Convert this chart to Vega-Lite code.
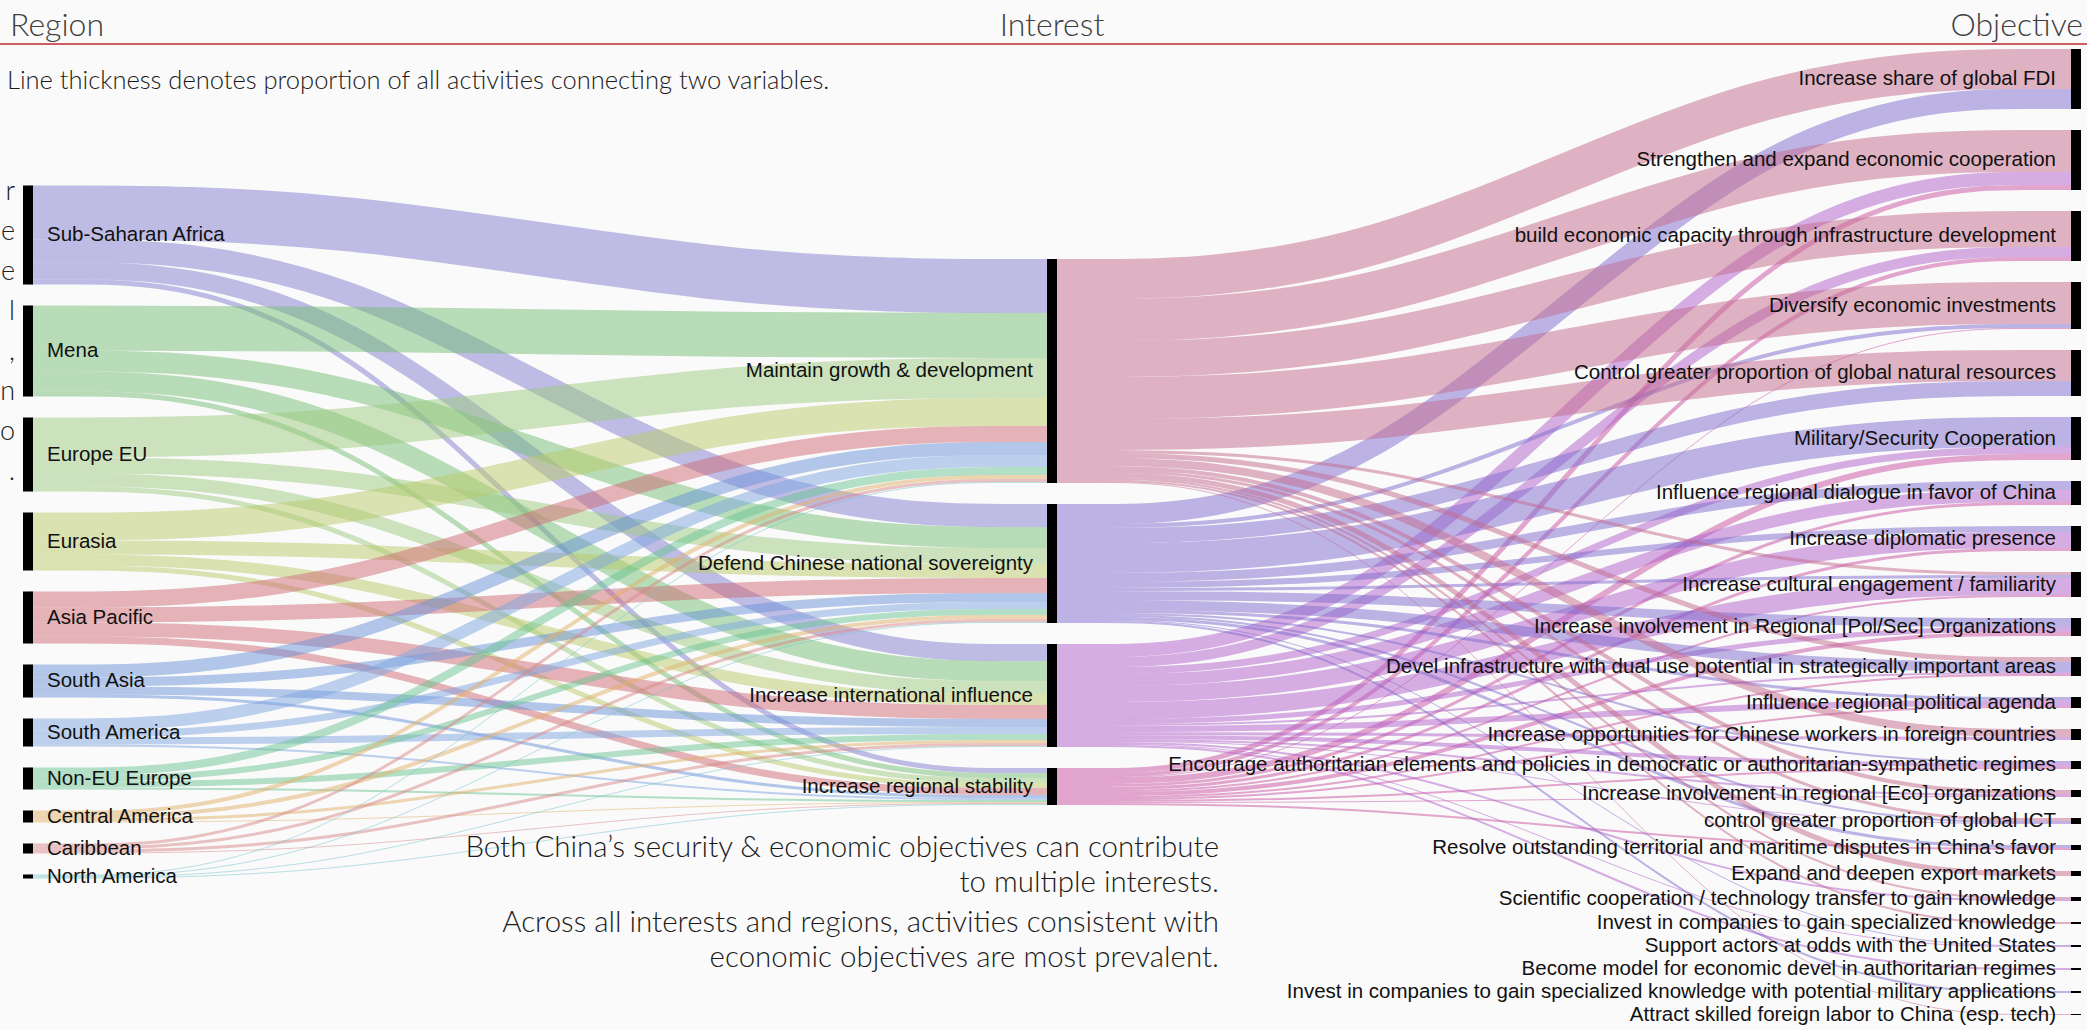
{
  "$schema": "https://vega.github.io/schema/vega-lite/v6.json",
  "width": 2087,
  "height": 1030,
  "autosize": {"type": "none"},
  "padding": 0,
  "background": "#fafafa",
  "config": {"view": {"stroke": null}},
  "datasets": {
    "links": [
      {"stage": 0, "s": "Sub-Saharan Africa", "so": 0, "t": "Maintain growth & development", "to": 0, "v": 54},
      {"stage": 0, "s": "Sub-Saharan Africa", "so": 0, "t": "Defend Chinese national sovereignty", "to": 1, "v": 23},
      {"stage": 0, "s": "Sub-Saharan Africa", "so": 0, "t": "Increase international influence", "to": 2, "v": 17},
      {"stage": 0, "s": "Sub-Saharan Africa", "so": 0, "t": "Increase regional stability", "to": 3, "v": 5},
      {"stage": 0, "s": "Mena", "so": 1, "t": "Maintain growth & development", "to": 0, "v": 45},
      {"stage": 0, "s": "Mena", "so": 1, "t": "Defend Chinese national sovereignty", "to": 1, "v": 21},
      {"stage": 0, "s": "Mena", "so": 1, "t": "Increase international influence", "to": 2, "v": 20},
      {"stage": 0, "s": "Mena", "so": 1, "t": "Increase regional stability", "to": 3, "v": 5},
      {"stage": 0, "s": "Europe EU", "so": 2, "t": "Maintain growth & development", "to": 0, "v": 40},
      {"stage": 0, "s": "Europe EU", "so": 2, "t": "Defend Chinese national sovereignty", "to": 1, "v": 16},
      {"stage": 0, "s": "Europe EU", "so": 2, "t": "Increase international influence", "to": 2, "v": 13},
      {"stage": 0, "s": "Europe EU", "so": 2, "t": "Increase regional stability", "to": 3, "v": 5},
      {"stage": 0, "s": "Eurasia", "so": 3, "t": "Maintain growth & development", "to": 0, "v": 28},
      {"stage": 0, "s": "Eurasia", "so": 3, "t": "Defend Chinese national sovereignty", "to": 1, "v": 14},
      {"stage": 0, "s": "Eurasia", "so": 3, "t": "Increase international influence", "to": 2, "v": 11},
      {"stage": 0, "s": "Eurasia", "so": 3, "t": "Increase regional stability", "to": 3, "v": 5},
      {"stage": 0, "s": "Asia Pacific", "so": 4, "t": "Maintain growth & development", "to": 0, "v": 16},
      {"stage": 0, "s": "Asia Pacific", "so": 4, "t": "Defend Chinese national sovereignty", "to": 1, "v": 15},
      {"stage": 0, "s": "Asia Pacific", "so": 4, "t": "Increase international influence", "to": 2, "v": 14},
      {"stage": 0, "s": "Asia Pacific", "so": 4, "t": "Increase regional stability", "to": 3, "v": 7},
      {"stage": 0, "s": "South Asia", "so": 5, "t": "Maintain growth & development", "to": 0, "v": 13},
      {"stage": 0, "s": "South Asia", "so": 5, "t": "Defend Chinese national sovereignty", "to": 1, "v": 9},
      {"stage": 0, "s": "South Asia", "so": 5, "t": "Increase international influence", "to": 2, "v": 8},
      {"stage": 0, "s": "South Asia", "so": 5, "t": "Increase regional stability", "to": 3, "v": 3},
      {"stage": 0, "s": "South America", "so": 6, "t": "Maintain growth & development", "to": 0, "v": 12},
      {"stage": 0, "s": "South America", "so": 6, "t": "Defend Chinese national sovereignty", "to": 1, "v": 7},
      {"stage": 0, "s": "South America", "so": 6, "t": "Increase international influence", "to": 2, "v": 7},
      {"stage": 0, "s": "South America", "so": 6, "t": "Increase regional stability", "to": 3, "v": 2},
      {"stage": 0, "s": "Non-EU Europe", "so": 7, "t": "Maintain growth & development", "to": 0, "v": 8},
      {"stage": 0, "s": "Non-EU Europe", "so": 7, "t": "Defend Chinese national sovereignty", "to": 1, "v": 6},
      {"stage": 0, "s": "Non-EU Europe", "so": 7, "t": "Increase international influence", "to": 2, "v": 6},
      {"stage": 0, "s": "Non-EU Europe", "so": 7, "t": "Increase regional stability", "to": 3, "v": 2},
      {"stage": 0, "s": "Central America", "so": 8, "t": "Maintain growth & development", "to": 0, "v": 4},
      {"stage": 0, "s": "Central America", "so": 8, "t": "Defend Chinese national sovereignty", "to": 1, "v": 4},
      {"stage": 0, "s": "Central America", "so": 8, "t": "Increase international influence", "to": 2, "v": 3},
      {"stage": 0, "s": "Central America", "so": 8, "t": "Increase regional stability", "to": 3, "v": 1},
      {"stage": 0, "s": "Caribbean", "so": 9, "t": "Maintain growth & development", "to": 0, "v": 3},
      {"stage": 0, "s": "Caribbean", "so": 9, "t": "Defend Chinese national sovereignty", "to": 1, "v": 3},
      {"stage": 0, "s": "Caribbean", "so": 9, "t": "Increase international influence", "to": 2, "v": 3},
      {"stage": 0, "s": "Caribbean", "so": 9, "t": "Increase regional stability", "to": 3, "v": 1},
      {"stage": 0, "s": "North America", "so": 10, "t": "Maintain growth & development", "to": 0, "v": 1},
      {"stage": 0, "s": "North America", "so": 10, "t": "Defend Chinese national sovereignty", "to": 1, "v": 1},
      {"stage": 0, "s": "North America", "so": 10, "t": "Increase international influence", "to": 2, "v": 1},
      {"stage": 0, "s": "North America", "so": 10, "t": "Increase regional stability", "to": 3, "v": 1},

      {"stage": 1, "s": "Maintain growth & development", "so": 0, "t": "Increase share of global FDI", "to": 0, "v": 40},
      {"stage": 1, "s": "Defend Chinese national sovereignty", "so": 1, "t": "Increase share of global FDI", "to": 0, "v": 20},
      {"stage": 1, "s": "Maintain growth & development", "so": 0, "t": "Strengthen and expand economic cooperation", "to": 1, "v": 42},
      {"stage": 1, "s": "Increase international influence", "so": 2, "t": "Strengthen and expand economic cooperation", "to": 1, "v": 13},
      {"stage": 1, "s": "Increase regional stability", "so": 3, "t": "Strengthen and expand economic cooperation", "to": 1, "v": 5},
      {"stage": 1, "s": "Maintain growth & development", "so": 0, "t": "build economic capacity through infrastructure development", "to": 2, "v": 36},
      {"stage": 1, "s": "Increase international influence", "so": 2, "t": "build economic capacity through infrastructure development", "to": 2, "v": 10},
      {"stage": 1, "s": "Increase regional stability", "so": 3, "t": "build economic capacity through infrastructure development", "to": 2, "v": 4},
      {"stage": 1, "s": "Maintain growth & development", "so": 0, "t": "Diversify economic investments", "to": 3, "v": 42},
      {"stage": 1, "s": "Defend Chinese national sovereignty", "so": 1, "t": "Diversify economic investments", "to": 3, "v": 4},
      {"stage": 1, "s": "Increase regional stability", "so": 3, "t": "Diversify economic investments", "to": 3, "v": 1},
      {"stage": 1, "s": "Maintain growth & development", "so": 0, "t": "Control greater proportion of global natural resources", "to": 4, "v": 31},
      {"stage": 1, "s": "Defend Chinese national sovereignty", "so": 1, "t": "Control greater proportion of global natural resources", "to": 4, "v": 15},
      {"stage": 1, "s": "Defend Chinese national sovereignty", "so": 1, "t": "Military/Security Cooperation", "to": 5, "v": 30},
      {"stage": 1, "s": "Increase international influence", "so": 2, "t": "Military/Security Cooperation", "to": 5, "v": 7},
      {"stage": 1, "s": "Increase regional stability", "so": 3, "t": "Military/Security Cooperation", "to": 5, "v": 6},
      {"stage": 1, "s": "Defend Chinese national sovereignty", "so": 1, "t": "Influence regional dialogue in favor of China", "to": 6, "v": 9},
      {"stage": 1, "s": "Increase international influence", "so": 2, "t": "Influence regional dialogue in favor of China", "to": 6, "v": 12},
      {"stage": 1, "s": "Increase regional stability", "so": 3, "t": "Influence regional dialogue in favor of China", "to": 6, "v": 3},
      {"stage": 1, "s": "Defend Chinese national sovereignty", "so": 1, "t": "Increase diplomatic presence", "to": 7, "v": 6},
      {"stage": 1, "s": "Increase international influence", "so": 2, "t": "Increase diplomatic presence", "to": 7, "v": 16},
      {"stage": 1, "s": "Increase regional stability", "so": 3, "t": "Increase diplomatic presence", "to": 7, "v": 3},
      {"stage": 1, "s": "Maintain growth & development", "so": 0, "t": "Increase cultural engagement / familiarity", "to": 8, "v": 3},
      {"stage": 1, "s": "Defend Chinese national sovereignty", "so": 1, "t": "Increase cultural engagement / familiarity", "to": 8, "v": 3},
      {"stage": 1, "s": "Increase international influence", "so": 2, "t": "Increase cultural engagement / familiarity", "to": 8, "v": 17},
      {"stage": 1, "s": "Increase regional stability", "so": 3, "t": "Increase cultural engagement / familiarity", "to": 8, "v": 2},
      {"stage": 1, "s": "Defend Chinese national sovereignty", "so": 1, "t": "Increase involvement in Regional [Pol/Sec] Organizations", "to": 9, "v": 9},
      {"stage": 1, "s": "Increase international influence", "so": 2, "t": "Increase involvement in Regional [Pol/Sec] Organizations", "to": 9, "v": 5},
      {"stage": 1, "s": "Increase regional stability", "so": 3, "t": "Increase involvement in Regional [Pol/Sec] Organizations", "to": 9, "v": 4},
      {"stage": 1, "s": "Maintain growth & development", "so": 0, "t": "Devel infrastructure with dual use potential in strategically important areas", "to": 10, "v": 5},
      {"stage": 1, "s": "Defend Chinese national sovereignty", "so": 1, "t": "Devel infrastructure with dual use potential in strategically important areas", "to": 10, "v": 10},
      {"stage": 1, "s": "Increase international influence", "so": 2, "t": "Devel infrastructure with dual use potential in strategically important areas", "to": 10, "v": 2},
      {"stage": 1, "s": "Increase regional stability", "so": 3, "t": "Devel infrastructure with dual use potential in strategically important areas", "to": 10, "v": 2},
      {"stage": 1, "s": "Defend Chinese national sovereignty", "so": 1, "t": "Influence regional political agenda", "to": 11, "v": 3},
      {"stage": 1, "s": "Increase international influence", "so": 2, "t": "Influence regional political agenda", "to": 11, "v": 6},
      {"stage": 1, "s": "Increase regional stability", "so": 3, "t": "Influence regional political agenda", "to": 11, "v": 2},
      {"stage": 1, "s": "Maintain growth & development", "so": 0, "t": "Increase opportunities for Chinese workers in foreign countries", "to": 12, "v": 8},
      {"stage": 1, "s": "Increase international influence", "so": 2, "t": "Increase opportunities for Chinese workers in foreign countries", "to": 12, "v": 3},
      {"stage": 1, "s": "Defend Chinese national sovereignty", "so": 1, "t": "Encourage authoritarian elements and policies in democratic or authoritarian-sympathetic regimes", "to": 13, "v": 2},
      {"stage": 1, "s": "Increase international influence", "so": 2, "t": "Encourage authoritarian elements and policies in democratic or authoritarian-sympathetic regimes", "to": 13, "v": 4},
      {"stage": 1, "s": "Increase regional stability", "so": 3, "t": "Encourage authoritarian elements and policies in democratic or authoritarian-sympathetic regimes", "to": 13, "v": 2},
      {"stage": 1, "s": "Maintain growth & development", "so": 0, "t": "Increase involvement in regional [Eco] organizations", "to": 14, "v": 4},
      {"stage": 1, "s": "Increase international influence", "so": 2, "t": "Increase involvement in regional [Eco] organizations", "to": 14, "v": 2},
      {"stage": 1, "s": "Increase regional stability", "so": 3, "t": "Increase involvement in regional [Eco] organizations", "to": 14, "v": 1},
      {"stage": 1, "s": "Maintain growth & development", "so": 0, "t": "control greater proportion of global ICT", "to": 15, "v": 3},
      {"stage": 1, "s": "Defend Chinese national sovereignty", "so": 1, "t": "control greater proportion of global ICT", "to": 15, "v": 2},
      {"stage": 1, "s": "Increase international influence", "so": 2, "t": "control greater proportion of global ICT", "to": 15, "v": 1},
      {"stage": 1, "s": "Defend Chinese national sovereignty", "so": 1, "t": "Resolve outstanding territorial and maritime disputes in China's favor", "to": 16, "v": 3},
      {"stage": 1, "s": "Increase regional stability", "so": 3, "t": "Resolve outstanding territorial and maritime disputes in China's favor", "to": 16, "v": 2},
      {"stage": 1, "s": "Maintain growth & development", "so": 0, "t": "Expand and deepen export markets", "to": 17, "v": 5},
      {"stage": 1, "s": "Maintain growth & development", "so": 0, "t": "Scientific cooperation / technology transfer to gain knowledge", "to": 18, "v": 2},
      {"stage": 1, "s": "Increase international influence", "so": 2, "t": "Scientific cooperation / technology transfer to gain knowledge", "to": 18, "v": 2},
      {"stage": 1, "s": "Maintain growth & development", "so": 0, "t": "Invest in companies to gain specialized knowledge", "to": 19, "v": 2},
      {"stage": 1, "s": "Defend Chinese national sovereignty", "so": 1, "t": "Support actors at odds with the United States", "to": 20, "v": 1},
      {"stage": 1, "s": "Increase international influence", "so": 2, "t": "Support actors at odds with the United States", "to": 20, "v": 1},
      {"stage": 1, "s": "Increase international influence", "so": 2, "t": "Become model for economic devel in authoritarian regimes", "to": 21, "v": 2},
      {"stage": 1, "s": "Defend Chinese national sovereignty", "so": 1, "t": "Invest in companies to gain specialized knowledge with potential military applications", "to": 22, "v": 2},
      {"stage": 1, "s": "Maintain growth & development", "so": 0, "t": "Attract skilled foreign labor to China (esp. tech)", "to": 23, "v": 1}
    ]
  },
  "layer": [
    {
      "data": {"name": "links"},
      "transform": [
        {"joinaggregate": [{"op": "sum", "field": "v", "as": "T"}, {"op": "distinct", "field": "s", "as": "nS"}, {"op": "distinct", "field": "t", "as": "nT"}], "groupby": ["stage"]},
        {"window": [{"op": "sum", "field": "v", "as": "cs"}], "groupby": ["stage"], "sort": [{"field": "so"}, {"field": "to"}], "frame": [null, 0]},
        {"window": [{"op": "sum", "field": "v", "as": "ct"}], "groupby": ["stage"], "sort": [{"field": "to"}, {"field": "so"}], "frame": [null, 0]},
        {"calculate": "-(datum.T + 21 * (datum.nS - 1)) / 2 + datum.cs - datum.v / 2 + 21 * datum.so", "as": "p0"},
        {"calculate": "datum.p0", "as": "p1"},
        {"calculate": "-(datum.T + 21 * (datum.nT - 1)) / 2 + datum.ct - datum.v / 2 + 21 * datum.to", "as": "p3"},
        {"calculate": "datum.p3", "as": "p2"},
        {"fold": ["p0", "p1", "p2", "p3"], "as": ["pt", "yy"]},
        {"calculate": "datum.stage + (datum.pt === 'p0' ? 0 : datum.pt === 'p1' ? 0.3 : datum.pt === 'p2' ? 0.7 : 1)", "as": "xx"}
      ],
      "mark": {"type": "line", "interpolate": "basis", "opacity": 0.5},
      "encoding": {
        "x": {"field": "xx", "type": "quantitative", "scale": {"domain": [-0.02734375, 2.0107421875], "nice": false, "zero": false}, "axis": null},
        "y": {"field": "yy", "type": "quantitative", "scale": {"domain": [-532, 498], "reverse": true, "nice": false, "zero": false}, "axis": null},
        "color": {
          "field": "s", "type": "nominal", "legend": null,
          "scale": {
            "domain": ["Sub-Saharan Africa", "Mena", "Europe EU", "Eurasia", "Asia Pacific", "South Asia", "South America", "Non-EU Europe", "Central America", "Caribbean", "North America", "Maintain growth & development", "Defend Chinese national sovereignty", "Increase international influence", "Increase regional stability"],
            "range": ["#817dcd", "#73bd73", "#9bc97d", "#b9c969", "#cd6973", "#6991d7", "#7da5e1", "#69c391", "#e1af69", "#d78787", "#73c3cd", "#c3698b", "#7d69cd", "#af5fc9", "#c951a1"]
          }
        },
        "strokeWidth": {"field": "v", "type": "quantitative", "legend": null, "scale": {"type": "linear", "domain": [0, 100], "range": [0, 100], "nice": false, "zero": true}},
        "detail": {"field": "t", "type": "nominal"},
        "order": {"field": "xx", "type": "quantitative"}
      }
    },
    {
      "data": {"name": "links"},
      "transform": [
        {"filter": "datum.stage === 0"},
        {"aggregate": [{"op": "sum", "field": "v", "as": "tot"}], "groupby": ["s", "so"]},
        {"joinaggregate": [{"op": "sum", "field": "tot", "as": "T"}, {"op": "count", "as": "n"}]},
        {"window": [{"op": "sum", "field": "tot", "as": "cum"}], "sort": [{"field": "so"}], "frame": [null, 0]},
        {"calculate": "-(datum.T + 21 * (datum.n - 1)) / 2 + datum.cum - datum.tot + 21 * datum.so", "as": "y0"},
        {"calculate": "datum.y0 + datum.tot", "as": "y1"},
        {"calculate": "datum.y0 + datum.tot / 2", "as": "ym"}
      ],
      "layer": [
        {
          "mark": {"type": "rule", "strokeWidth": 10, "color": "#000000"},
          "encoding": {
            "x": {"datum": 0, "type": "quantitative", "scale": {"domain": [-0.02734375, 2.0107421875], "nice": false, "zero": false}, "axis": null},
            "y": {"field": "y0", "type": "quantitative", "scale": {"domain": [-532, 498], "reverse": true, "nice": false, "zero": false}, "axis": null},
            "y2": {"field": "y1"}
          }
        },
        {
          "mark": {"type": "text", "align": "left", "baseline": "middle", "dx": 19, "font": "Liberation Sans", "fontSize": 20.5, "color": "#111111"},
          "encoding": {
            "x": {"datum": 0, "type": "quantitative", "scale": {"domain": [-0.02734375, 2.0107421875], "nice": false, "zero": false}, "axis": null},
            "y": {"field": "ym", "type": "quantitative", "scale": {"domain": [-532, 498], "reverse": true, "nice": false, "zero": false}, "axis": null},
            "text": {"field": "s"}
          }
        }
      ]
    },
    {
      "data": {"name": "links"},
      "transform": [
        {"filter": "datum.stage === 0"},
        {"aggregate": [{"op": "sum", "field": "v", "as": "tot"}], "groupby": ["t", "to"]},
        {"joinaggregate": [{"op": "sum", "field": "tot", "as": "T"}, {"op": "count", "as": "n"}]},
        {"window": [{"op": "sum", "field": "tot", "as": "cum"}], "sort": [{"field": "to"}], "frame": [null, 0]},
        {"calculate": "-(datum.T + 21 * (datum.n - 1)) / 2 + datum.cum - datum.tot + 21 * datum.to", "as": "y0"},
        {"calculate": "datum.y0 + datum.tot", "as": "y1"},
        {"calculate": "datum.y0 + datum.tot / 2", "as": "ym"}
      ],
      "layer": [
        {
          "mark": {"type": "rule", "strokeWidth": 10, "color": "#000000"},
          "encoding": {
            "x": {"datum": 1, "type": "quantitative", "scale": {"domain": [-0.02734375, 2.0107421875], "nice": false, "zero": false}, "axis": null},
            "y": {"field": "y0", "type": "quantitative", "scale": {"domain": [-532, 498], "reverse": true, "nice": false, "zero": false}, "axis": null},
            "y2": {"field": "y1"}
          }
        },
        {
          "mark": {"type": "text", "align": "right", "baseline": "middle", "dx": -19, "font": "Liberation Sans", "fontSize": 20.5, "color": "#111111"},
          "encoding": {
            "x": {"datum": 1, "type": "quantitative", "scale": {"domain": [-0.02734375, 2.0107421875], "nice": false, "zero": false}, "axis": null},
            "y": {"field": "ym", "type": "quantitative", "scale": {"domain": [-532, 498], "reverse": true, "nice": false, "zero": false}, "axis": null},
            "text": {"field": "t"}
          }
        }
      ]
    },
    {
      "data": {"name": "links"},
      "transform": [
        {"filter": "datum.stage === 1"},
        {"aggregate": [{"op": "sum", "field": "v", "as": "tot"}], "groupby": ["t", "to"]},
        {"joinaggregate": [{"op": "sum", "field": "tot", "as": "T"}, {"op": "count", "as": "n"}]},
        {"window": [{"op": "sum", "field": "tot", "as": "cum"}], "sort": [{"field": "to"}], "frame": [null, 0]},
        {"calculate": "-(datum.T + 21 * (datum.n - 1)) / 2 + datum.cum - datum.tot + 21 * datum.to", "as": "y0"},
        {"calculate": "datum.y0 + datum.tot", "as": "y1"},
        {"calculate": "datum.y0 + datum.tot / 2", "as": "ym"}
      ],
      "layer": [
        {
          "mark": {"type": "rule", "strokeWidth": 10, "color": "#000000"},
          "encoding": {
            "x": {"datum": 2, "type": "quantitative", "scale": {"domain": [-0.02734375, 2.0107421875], "nice": false, "zero": false}, "axis": null},
            "y": {"field": "y0", "type": "quantitative", "scale": {"domain": [-532, 498], "reverse": true, "nice": false, "zero": false}, "axis": null},
            "y2": {"field": "y1"}
          }
        },
        {
          "mark": {"type": "text", "align": "right", "baseline": "middle", "dx": -20, "font": "Liberation Sans", "fontSize": 20.5, "color": "#111111"},
          "encoding": {
            "x": {"datum": 2, "type": "quantitative", "scale": {"domain": [-0.02734375, 2.0107421875], "nice": false, "zero": false}, "axis": null},
            "y": {"field": "ym", "type": "quantitative", "scale": {"domain": [-532, 498], "reverse": true, "nice": false, "zero": false}, "axis": null},
            "text": {"field": "t"}
          }
        }
      ]
    },
    {
      "data": {"values": [{"name": "header rule"}]},
      "mark": {"type": "rule", "color": "#c0282d", "strokeWidth": 1.5},
      "encoding": {
        "y": {"datum": -488, "type": "quantitative", "scale": {"domain": [-532, 498], "reverse": true, "nice": false, "zero": false}, "axis": null}
      }
    },
    {
      "data": {"values": [{"label": "Region"}]},
      "mark": {"type": "text", "align": "left", "baseline": "alphabetic", "font": "Lato", "fontWeight": 300, "fontSize": 32, "color": "#404040"},
      "encoding": {
        "x": {"datum": -0.0176, "type": "quantitative", "scale": {"domain": [-0.02734375, 2.0107421875], "nice": false, "zero": false}, "axis": null},
        "y": {"datum": -496, "type": "quantitative", "scale": {"domain": [-532, 498], "reverse": true, "nice": false, "zero": false}, "axis": null},
        "text": {"field": "label"}
      }
    },
    {
      "data": {"values": [{"label": "Interest"}]},
      "mark": {"type": "text", "align": "center", "baseline": "alphabetic", "font": "Lato", "fontWeight": 300, "fontSize": 32, "color": "#404040"},
      "encoding": {
        "x": {"datum": 1, "type": "quantitative", "scale": {"domain": [-0.02734375, 2.0107421875], "nice": false, "zero": false}, "axis": null},
        "y": {"datum": -496, "type": "quantitative", "scale": {"domain": [-532, 498], "reverse": true, "nice": false, "zero": false}, "axis": null},
        "text": {"field": "label"}
      }
    },
    {
      "data": {"values": [{"label": "Objective"}]},
      "mark": {"type": "text", "align": "right", "baseline": "alphabetic", "font": "Lato", "fontWeight": 300, "fontSize": 32, "color": "#404040"},
      "encoding": {
        "x": {"datum": 2.00684, "type": "quantitative", "scale": {"domain": [-0.02734375, 2.0107421875], "nice": false, "zero": false}, "axis": null},
        "y": {"datum": -496, "type": "quantitative", "scale": {"domain": [-532, 498], "reverse": true, "nice": false, "zero": false}, "axis": null},
        "text": {"field": "label"}
      }
    },
    {
      "data": {"values": [{"label": "Line thickness denotes proportion of all activities connecting two variables."}]},
      "mark": {"type": "text", "align": "left", "baseline": "alphabetic", "font": "Lato", "fontWeight": 300, "fontSize": 25.5, "color": "#1a1a1a"},
      "encoding": {
        "x": {"datum": -0.0205, "type": "quantitative", "scale": {"domain": [-0.02734375, 2.0107421875], "nice": false, "zero": false}, "axis": null},
        "y": {"datum": -443, "type": "quantitative", "scale": {"domain": [-532, 498], "reverse": true, "nice": false, "zero": false}, "axis": null},
        "text": {"field": "label"}
      }
    },
    {
      "data": {"values": [{"label": ["Both China’s security & economic objectives can contribute", "to multiple interests."]}]},
      "mark": {"type": "text", "align": "right", "baseline": "alphabetic", "lineHeight": 35, "font": "Lato", "fontWeight": 300, "fontSize": 29.5, "color": "#1a1a1a"},
      "encoding": {
        "x": {"datum": 1.1631, "type": "quantitative", "scale": {"domain": [-0.02734375, 2.0107421875], "nice": false, "zero": false}, "axis": null},
        "y": {"datum": 325, "type": "quantitative", "scale": {"domain": [-532, 498], "reverse": true, "nice": false, "zero": false}, "axis": null},
        "text": {"field": "label"}
      }
    },
    {
      "data": {"values": [{"label": ["Across all interests and regions, activities consistent with", "economic objectives are most prevalent."]}]},
      "mark": {"type": "text", "align": "right", "baseline": "alphabetic", "lineHeight": 35, "font": "Lato", "fontWeight": 300, "fontSize": 29.5, "color": "#1a1a1a"},
      "encoding": {
        "x": {"datum": 1.1631, "type": "quantitative", "scale": {"domain": [-0.02734375, 2.0107421875], "nice": false, "zero": false}, "axis": null},
        "y": {"datum": 400, "type": "quantitative", "scale": {"domain": [-532, 498], "reverse": true, "nice": false, "zero": false}, "axis": null},
        "text": {"field": "label"}
      }
    },
    {
      "data": {"values": [{"label": ["r", "e", "e", "l", ",", "n", "o", "."]}]},
      "mark": {"type": "text", "align": "right", "baseline": "alphabetic", "lineHeight": 40, "font": "Lato", "fontWeight": 300, "fontSize": 27, "color": "#222222"},
      "encoding": {
        "x": {"datum": -0.0127, "type": "quantitative", "scale": {"domain": [-0.02734375, 2.0107421875], "nice": false, "zero": false}, "axis": null},
        "y": {"datum": -332, "type": "quantitative", "scale": {"domain": [-532, 498], "reverse": true, "nice": false, "zero": false}, "axis": null},
        "text": {"field": "label"}
      }
    }
  ]
}
